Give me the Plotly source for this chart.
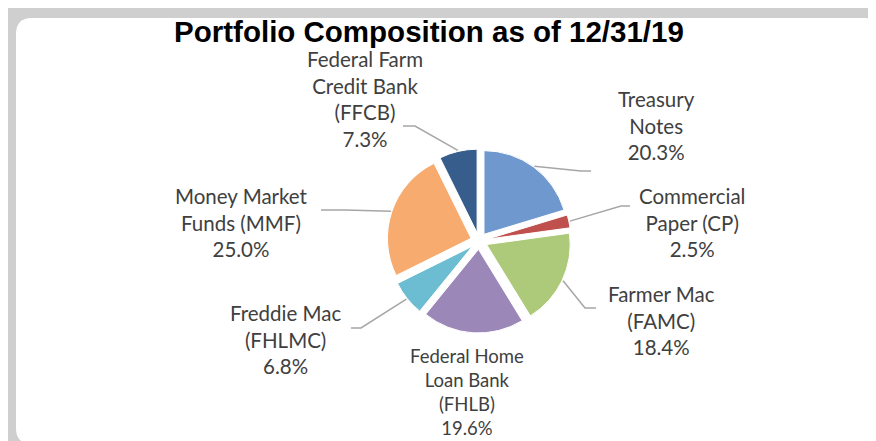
import math
import plotly.graph_objects as go

# ---- data ----
categories = ["Treasury Notes", "Commercial Paper (CP)", "Farmer Mac (FAMC)",
              "Federal Home Loan Bank (FHLB)", "Freddie Mac (FHLMC)",
              "Money Market Funds (MMF)", "Federal Farm Credit Bank (FFCB)"]
label_lines = ["Treasury<br>Notes", "Commercial<br>Paper (CP)", "Farmer Mac<br>(FAMC)",
               "Federal Home<br>Loan Bank<br>(FHLB)", "Freddie Mac<br>(FHLMC)",
               "Money Market<br>Funds (MMF)", "Federal Farm<br>Credit Bank<br>(FFCB)"]
values = [20.3, 2.5, 18.4, 19.6, 6.8, 25.0, 7.3]
colors = ["#6f98cf", "#c0504d", "#adc97a", "#9b87b8", "#6cbdd2", "#f8ab6e", "#375d8c"]

# ---- layout constants (pixels) ----
W, H = 876, 441
CX, CY = 471, 233          # pie centre
PULL = 0.1
D = 184                    # pie domain size
R = D / (2 + 2 * PULL)     # plotly radius

def px(x):
    return x / W

def py(y):
    return 1 - y / H

# label centres (px) and leader-line bends (px) per category
label_pos = [(648, 117), (684, 214), (653, 312), (459, 384), (277, 331), (233, 214), (357, 91)]
label_size = [20.5, 20.5, 20.5, 18.5, 20.5, 20.5, 20.5]
leader = [[(573, 163), (583, 163)], [(613, 198), (622, 198)], [(577, 300), (588, 300)],
          None, [(353, 320), (343, 320)], [(337, 202), (313, 202)], [(407, 118), (395, 118)]]

fig = go.Figure()
fig.add_trace(go.Pie(
    labels=categories, values=values, sort=False, direction="clockwise", rotation=0,
    pull=PULL, textinfo="none", hoverinfo="label+percent",
    marker=dict(colors=colors, line=dict(color="white", width=1)),
    domain=dict(x=[px(CX - D / 2), px(CX + D / 2)], y=[py(CY + D / 2), py(CY - D / 2)]),
    showlegend=False,
))

shapes = []
# white rounded panel
x0, y0, x1, y1, rr = 8, 10, 872, 436, 16
path = (f"M {px(x0 + rr)} {py(y0)} L {px(x1 - rr)} {py(y0)} Q {px(x1)} {py(y0)} {px(x1)} {py(y0 + rr)} "
        f"L {px(x1)} {py(y1 - rr)} Q {px(x1)} {py(y1)} {px(x1 - rr)} {py(y1)} "
        f"L {px(x0 + rr)} {py(y1)} Q {px(x0)} {py(y1)} {px(x0)} {py(y1 - rr)} "
        f"L {px(x0)} {py(y0 + rr)} Q {px(x0)} {py(y0)} {px(x0 + rr)} {py(y0)} Z")
shapes.append(dict(type="path", path=path, xref="paper", yref="paper",
                   fillcolor="white", line=dict(width=0), layer="below"))

total = sum(values)
cum = 0.0
annotations = []
for i, v in enumerate(values):
    mid = (cum + v / 2) / total * 2 * math.pi
    cum += v
    rl = R * (1 + PULL) + 1
    sx, sy = CX + rl * math.sin(mid), CY - rl * math.cos(mid)
    if leader[i]:
        pts = [(sx, sy)] + leader[i]
        p = "M " + " L ".join(f"{px(a)} {py(b)}" for a, b in pts)
        shapes.append(dict(type="path", path=p, xref="paper", yref="paper",
                           line=dict(color="#a6a6a6", width=1.5)))
    lx, ly = label_pos[i]
    annotations.append(dict(
        x=px(lx), y=py(ly), xref="paper", yref="paper", xanchor="center", yanchor="middle",
        text=f"{label_lines[i]}<br>{v:.1f}%", showarrow=False, align="center",
        font=dict(family="Lato", size=label_size[i], color="#404040")))

fig.update_layout(
    width=W, height=H, margin=dict(l=0, r=0, t=0, b=0),
    paper_bgcolor="#cfcfcf", plot_bgcolor="white",
    title=dict(text="<b>Portfolio Composition as of 12/31/19</b>", x=px(421), y=py(24),
               xanchor="center", yanchor="middle",
               font=dict(family="Liberation Sans", size=29.5, color="black")),
    shapes=shapes, annotations=annotations,
)

fig.write_html("out.html")
